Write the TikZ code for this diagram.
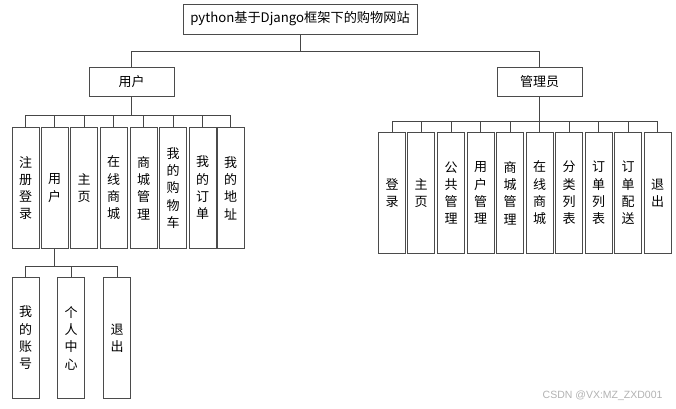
\documentclass[tikz,border=0pt]{standalone}
\usepackage{fontspec}
\setmainfont{Noto Sans CJK SC}
\newfontfamily\markfont{Liberation Sans}
\usepackage{xcolor}
\usepackage{tikz}
\definecolor{ink}{RGB}{70,70,70}
\definecolor{boxline}{RGB}{75,75,75}
\tikzset{
  rootbox/.style={
    draw=boxline, line width=1pt, fill=white,
    minimum width=234pt, minimum height=30pt, inner sep=0pt,
    font=\fontsize{13.2}{15}\selectfont,
  },
  rolebox/.style={
    draw=boxline, line width=1pt, fill=white,
    minimum width=85pt, minimum height=29pt, inner sep=0pt,
    font=\fontsize{13}{15}\selectfont,
  },
  leaf/.style={
    draw=boxline, line width=1pt, fill=white, anchor=north,
    minimum width=27pt, minimum height=121pt, inner sep=0pt,
    align=center, font=\fontsize{13}{17.3}\selectfont,
  },
  link/.style={draw=ink, line width=0.8pt},
}

\begin{document}
\begin{tikzpicture}[x=1pt,y=-1pt]
  \useasboundingbox (0,0) rectangle (676,408);

  % top level
  \node[rootbox] (root) at (300,19) {python基于Django框架下的购物网站};
  \node[rolebox] (usr) at (131.5,81.5) {用户};
  \node[rolebox] (adm) at (539.5,81.5) {管理员};
  \coordinate (rootbus) at (300,51);
  \draw[link] (root) -- (rootbus);
  \draw[link] (rootbus) -| (usr);
  \draw[link] (rootbus) -| (adm);

  % user side
  \node[leaf] (u1) at (25.5,127) {注\\册\\登\\录};
  \node[leaf] (u2) at (54.5,127) {用\\户};
  \node[leaf] (u3) at (84,127) {主\\页};
  \node[leaf] (u4) at (113.5,127) {在\\线\\商\\城};
  \node[leaf] (u5) at (143.5,127) {商\\城\\管\\理};
  \node[leaf] (u6) at (173,127) {我\\的\\购\\物\\车};
  \node[leaf] (u7) at (202.5,127) {我\\的\\订\\单};
  \node[leaf] (u8) at (230.5,127) {我\\的\\地\\址};
  \coordinate (usrbus) at (131.5,115);
  \draw[link] (usr) -- (usrbus);
  \draw[link] (usrbus) -| (u1);
  \draw[link] (usrbus) -| (u2);
  \draw[link] (usrbus) -| (u3);
  \draw[link] (usrbus) -| (u4);
  \draw[link] (usrbus) -| (u5);
  \draw[link] (usrbus) -| (u6);
  \draw[link] (usrbus) -| (u7);
  \draw[link] (usrbus) -| (u8);

  % account sub-menu
  \node[leaf] (s1) at (25.5,277) {我\\的\\账\\号};
  \node[leaf] (s2) at (71,277) {个\\人\\中\\心};
  \node[leaf] (s3) at (117,277) {退\\出};
  \coordinate (subbus) at (54.5,266);
  \draw[link] (u2) -- (subbus);
  \draw[link] (subbus) -| (s1);
  \draw[link] (subbus) -| (s2);
  \draw[link] (subbus) -| (s3);

  % admin side
  \node[leaf] (a1) at (392,132) {登\\录};
  \node[leaf] (a2) at (421,132) {主\\页};
  \node[leaf] (a3) at (451,132) {公\\共\\管\\理};
  \node[leaf] (a4) at (480.5,132) {用\\户\\管\\理};
  \node[leaf] (a5) at (510,132) {商\\城\\管\\理};
  \node[leaf] (a6) at (539.5,132) {在\\线\\商\\城};
  \node[leaf] (a7) at (569,132) {分\\类\\列\\表};
  \node[leaf] (a8) at (598.5,132) {订\\单\\列\\表};
  \node[leaf] (a9) at (628,132) {订\\单\\配\\送};
  \node[leaf] (a10) at (657.5,132) {退\\出};
  \coordinate (admbus) at (539.5,121);
  \draw[link] (adm) -- (admbus);
  \draw[link] (admbus) -| (a1);
  \draw[link] (admbus) -| (a2);
  \draw[link] (admbus) -| (a3);
  \draw[link] (admbus) -| (a4);
  \draw[link] (admbus) -| (a5);
  \draw[link] (admbus) -| (a6);
  \draw[link] (admbus) -| (a7);
  \draw[link] (admbus) -| (a8);
  \draw[link] (admbus) -| (a9);
  \draw[link] (admbus) -| (a10);

  \node[anchor=east, font=\markfont\fontsize{10.5}{12}\selectfont, text=black!30] (mark) at (666,396) {CSDN @VX:MZ\_ZXD001};
\end{tikzpicture}
\end{document}
